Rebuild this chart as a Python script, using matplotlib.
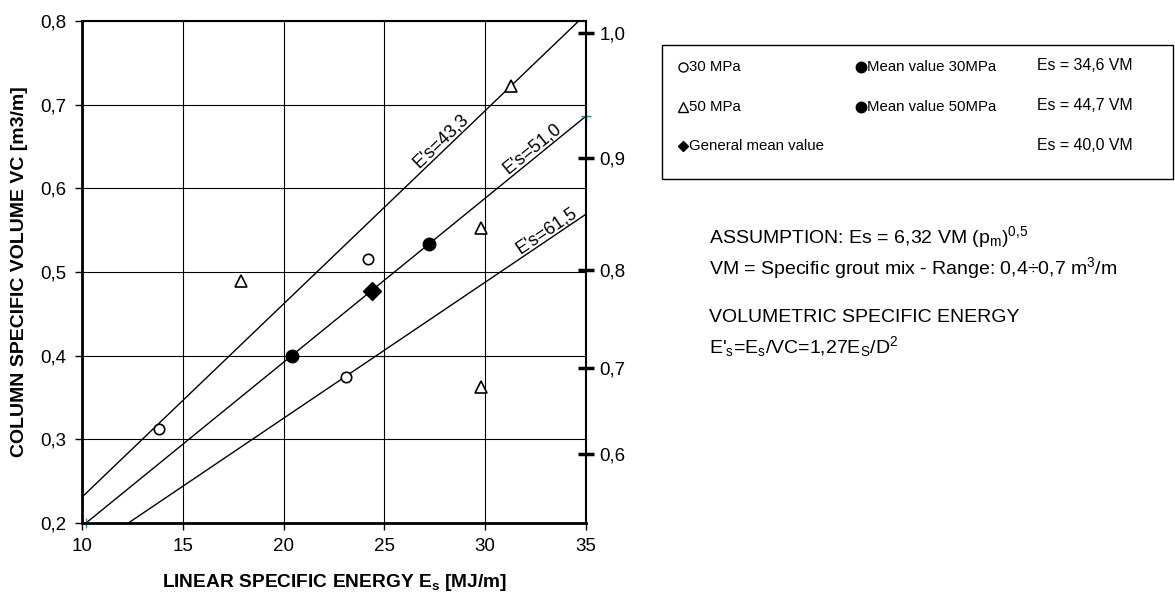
import numpy as np
import matplotlib.pyplot as plt
from matplotlib.patches import Rectangle

plt.rcParams['font.family'] = ['Liberation Sans', 'DejaVu Sans']
plt.rcParams['mathtext.fontset'] = 'custom'
plt.rcParams['mathtext.rm'] = 'Liberation Sans'
plt.rcParams['mathtext.bf'] = 'Liberation Sans:bold'
plt.rcParams['mathtext.default'] = 'regular'

# measured points: linear specific energy Es [MJ/m] vs column volume VC [m3/m]
es_30 = [13.8, 24.2, 23.1]
vc_30 = [0.312, 0.516, 0.374]
es_50 = [17.9, 31.3, 29.8, 29.8]
vc_50 = [0.489, 0.722, 0.553, 0.362]
es_mean = [20.4, 27.2]
vc_mean = [0.400, 0.533]
es_gen = [24.4]
vc_gen = [0.477]

# volumetric specific energy lines E's = Es / VC
e_vol = [43.3, 51.0, 61.5]
e_vol_labels = ["E's=43,3", "E's=51,0", "E's=61,5"]
label_es = [28.1, 32.6, 33.3]
es_range = np.array([10.0, 35.0])

# end points of the reference line
es_ends = [10.2, 35.0]
vc_ends = [0.2, 0.686]

# right axis: column diameter D [m], VC = pi D^2 / 4
diam = [0.6, 0.7, 0.8, 0.9, 1.0]
diam_labels = ['0,6', '0,7', '0,8', '0,9', '1,0']

x_ticks = [10, 15, 20, 25, 30, 35]
y_ticks = [0.2, 0.3, 0.4, 0.5, 0.6, 0.7, 0.8]

fig = plt.figure(figsize=(11.75, 5.97), dpi=100)
ax = fig.add_axes([82 / 1175, 1 - 523 / 597, 504 / 1175, 502 / 597])

ax.set_xlim(10, 35)
ax.set_ylim(0.2, 0.8)
ax.set_xticks(x_ticks)
ax.set_xticklabels([str(v) for v in x_ticks])
ax.set_yticks(y_ticks)
ax.set_yticklabels([f'{v:.1f}'.replace('.', ',') for v in y_ticks])
ax.grid(True, color='black', linewidth=0.8)
ax.set_axisbelow(True)
ax.tick_params(labelsize=13.5, length=5, width=1, direction='out', pad=6)
for side in ['left', 'bottom']:
    ax.spines[side].set_linewidth(2)
for side in ['top', 'right']:
    ax.spines[side].set_linewidth(1.5)

for e, lab, xl in zip(e_vol, e_vol_labels, label_es):
    ax.plot(es_range, es_range / e, color='black', linewidth=1)
    ax.text(xl, xl / e, lab, fontsize=13, ha='center', va='bottom',
            rotation=np.degrees(np.arctan(1 / e)), rotation_mode='anchor',
            transform_rotates_text=True)

ax.plot(es_ends, vc_ends, linestyle='none', marker='+', color='#1a9a9a',
        markersize=7, clip_on=False)

ax.plot(es_30, vc_30, 'o', mfc='white', mec='black', mew=1.2, markersize=7.5)
ax.plot(es_50, vc_50, '^', mfc='white', mec='black', mew=1.2, markersize=9)
ax.plot(es_mean, vc_mean, 'o', color='black', markersize=9)
ax.plot(es_gen, vc_gen, 'D', color='black', markersize=9)

ax.set_xlabel('LINEAR SPECIFIC ENERGY E$_\\mathbf{s}$ [MJ/m]', fontsize=13.8,
              fontweight='bold', labelpad=12)
ax.set_ylabel('COLUMN SPECIFIC VOLUME VC [m3/m]', fontsize=14,
              fontweight='bold', labelpad=9)

axr = ax.twinx()
axr.set_ylim(ax.get_ylim())
axr.set_yticks([np.pi * d ** 2 / 4 for d in diam])
axr.set_yticklabels(diam_labels)
axr.tick_params(labelsize=13.5, length=11, width=2.5, direction='inout', pad=4)
for side in axr.spines:
    axr.spines[side].set_visible(False)

# legend box and notes drawn in figure pixel coordinates
ov = fig.add_axes([0, 0, 1, 1])
ov.set_xlim(0, 1175)
ov.set_ylim(597, 0)
ov.axis('off')
ov.add_patch(Rectangle((662, 45), 511, 134, fill=False, edgecolor='black',
                       linewidth=1))

rows = [67, 107, 146]
ov.plot([683], [rows[0]], 'o', mfc='white', mec='black', markersize=6.5, mew=1)
ov.plot([683], [rows[1]], '^', mfc='white', mec='black', markersize=6.5, mew=1)
ov.plot([683], [rows[2]], 'D', color='black', markersize=5.5)
ov.plot([861, 861], rows[:2], 'o', color='black', markersize=7.5)
fs = 10.8
ov.text(689, rows[0], '30 MPa', fontsize=fs, va='center')
ov.text(689, rows[1], '50 MPa', fontsize=fs, va='center')
ov.text(689, rows[2], 'General mean value', fontsize=fs, va='center')
ov.text(867, rows[0], 'Mean value 30MPa', fontsize=fs, va='center')
ov.text(867, rows[1], 'Mean value 50MPa', fontsize=fs, va='center')
ov.text(1037, rows[0] - 2, 'Es = 34,6 VM', fontsize=11.4, va='center')
ov.text(1037, rows[1] - 2, 'Es = 44,7 VM', fontsize=11.4, va='center')
ov.text(1037, rows[2], 'Es = 40,0 VM', fontsize=11.4, va='center')

fn = 14
ov.text(709, 237, 'ASSUMPTION: Es = 6,32 VM (p$_m$)$^{0{,}5}$', fontsize=fn,
        va='center')
ov.text(709, 268, 'VM = Specific grout mix - Range: 0,4÷0,7 m$^3$/m',
        fontsize=fn, va='center')
ov.text(709, 317, 'VOLUMETRIC SPECIFIC ENERGY', fontsize=fn, va='center')
ov.text(709, 347, "E'$_s$=E$_s$/VC=1,27E$_S$/D$^2$", fontsize=fn, va='center')

fig.savefig('out.png', dpi=100)
